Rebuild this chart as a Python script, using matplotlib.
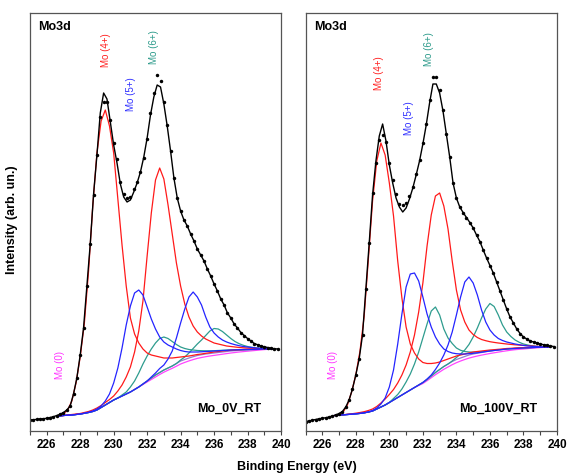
import numpy as np
import matplotlib
matplotlib.use('Agg')
import matplotlib.pyplot as plt

plt.rcParams['font.family'] = ['Liberation Sans', 'DejaVu Sans']

# binding energy grids (eV)
be_fit = np.round(np.arange(226.75, 239.51, 0.25), 2)   # fitted components
be_data = np.round(np.arange(225.0, 239.81, 0.2), 2)    # measured points

# ---------------- Mo_0V_RT ----------------
bg_0v = [15.0, 15.5, 15.8, 16.0, 16.5, 17.0, 17.7, 18.5, 19.5, 21.0, 23.5, 26.0, 28.5,
         31.0, 33.0, 35.0, 37.0, 39.0, 41.5, 44.0, 47.0, 50.0, 53.0, 56.0, 58.5, 61.0,
         63.0, 65.0, 67.5, 70.0, 71.5, 73.0, 74.3, 75.5, 76.3, 77.0, 77.5, 78.0, 78.5,
         79.0, 79.5, 80.0, 80.3, 80.6, 80.8, 81.0, 81.3, 81.5, 81.7, 82.0, 82.0, 82.0]
mo4a_0v = [15.5, 17, 21, 30, 48, 74, 108, 160, 225, 278, 310, 321, 305,
           278, 232, 186, 145, 113, 97, 88, 82, 78, 76, 75, 74, 73,
           73, 73, 73.5, 74, 74.5, 75, 75.7, 76.5, 77, 77.7, 78.3, 79, 79.5,
           80, 80.4, 80.8, 81, 81.3, 81.5, 81.7, 81.8, 81.9, 82, 82, 82, 82]
mo4b_0v = [15, 15.5, 16, 16.5, 17, 17.5, 18.5, 19.5, 21, 23, 25.5, 28.5, 31.5,
           35, 40, 46, 54, 64, 79, 100, 130, 175, 218, 251, 263, 252,
           226, 197, 168, 145, 127, 114, 105, 99, 95, 92, 90, 88, 87,
           86, 85, 84.5, 84, 83.5, 83.2, 83, 82.8, 82.6, 82.4, 82.2, 82.1, 82]
mo5a_0v = [15, 15.5, 15.8, 16, 16.5, 17, 17.8, 18.8, 20, 22, 25, 30, 37,
           48, 63, 83, 106, 125, 138, 141, 136, 124, 112, 102, 94, 89,
           86, 84, 82, 80.5, 79.5, 79, 79, 79, 79.2, 79.5, 79.7, 80, 80.2,
           80.5, 80.7, 81, 81.1, 81.3, 81.4, 81.5, 81.6, 81.7, 81.8, 82, 82, 82]
mo5b_0v = [15.0, 15.5, 15.8, 16.0, 16.5, 17.0, 17.7, 18.5, 19.5, 21.0, 23.5, 26.0, 28.5,
           31, 33, 35, 37, 39, 41.5, 44, 47, 50, 54, 58, 62.5, 66,
           72, 80, 93, 108, 122, 134, 139, 134, 126, 114, 104, 98, 94,
           91, 89, 87.5, 86.3, 85.3, 84.5, 84, 83.5, 83, 82.7, 82.4, 82.2, 82]
mo6a_0v = [15.0, 15.5, 15.8, 16.0, 16.5, 17.0, 17.7, 18.5, 19.5, 21.0, 23.5, 26.0, 28.5,
           31, 33, 36, 39, 44, 50, 58, 67, 75, 82, 88, 92.5, 94,
           92.5, 89.5, 86.5, 84, 82.5, 81.5, 81, 80.5, 80.3, 80.2, 80.2, 80.3, 80.5,
           80.7, 80.9, 81, 81.2, 81.3, 81.4, 81.5, 81.6, 81.7, 81.8, 82, 82, 82]
mo6b_0v = [15.0, 15.5, 15.8, 16.0, 16.5, 17.0, 17.7, 18.5, 19.5, 21.0, 23.5, 26.0, 28.5,
           31.0, 33.0, 35.0, 37.0, 39.0, 41.5, 44.0, 47.0, 50.0, 53.0, 56.0, 58.5, 61.0,
           63, 65, 67.5, 71, 74, 78, 82.5, 87, 91, 95.5, 100, 102.5, 102,
           99.5, 96, 92.5, 89.5, 87.3, 85.7, 84.5, 83.7, 83.2, 82.8, 82.5, 82.2, 82]
mo0_0v = [15.0, 15.5, 15.8, 16.0, 16.5, 17.0, 17.7, 18.5, 19.5, 21.0, 23.5, 26.0, 28.5,
          31.0, 33.0, 35.0, 37.0, 39.0, 41.5, 44.0, 46.5, 49.0, 51.5, 54.0, 56.5, 58.8,
          60.8, 62.7, 64.8, 67.0, 68.6, 70.1, 71.4, 72.6, 73.5, 74.3, 75.0, 75.6, 76.2,
          76.8, 77.4, 78.0, 78.5, 79.0, 79.4, 79.8, 80.2, 80.6, 81.0, 81.4, 81.7, 82.0]
data_0v = [11, 11.3, 11.6, 12, 12.3, 12.7, 13.5, 14.3, 15.5, 16.8,
           18.5, 21, 25, 37, 53, 76, 103, 145, 187, 236,
           276, 314, 329, 329, 311, 288, 272, 249, 237, 233,
           234.5, 242, 249, 259, 273, 292, 318, 338, 356, 350,
           329, 306, 280, 253, 233, 220, 211, 205, 197, 190,
           182, 176, 170, 162, 155, 147, 140, 132, 126, 118,
           113, 107, 103, 98.5, 95.5, 92.5, 90, 87.5, 86.3, 85,
           84.2, 83.5, 82.8, 82.3, 82]
env_0v = [11, 11.3, 11.6, 12, 12.3, 12.7, 13.5, 14.3, 15.5, 16.8,
          18.5, 21, 25, 37, 53, 76, 103, 145, 187, 237,
          276, 318, 338, 332, 309, 286, 268, 247, 234, 229,
          231, 239, 248, 259, 274, 293, 316, 334, 346, 344,
          327, 305, 280, 253, 233, 220, 211, 205, 197, 190,
          182, 176, 170, 162, 155, 147, 140, 132, 126, 118,
          113, 107, 103, 98.5, 95.5, 92.5, 90, 87.5, 86.3, 85,
          84.2, 83.5, 82.8, 82.3, 82]

# ---------------- Mo_100V_RT ----------------
bg_100v = [15.5, 16, 16.2, 16.5, 16.8, 17.2, 17.6, 18.2, 19, 20, 22, 24, 26,
           28.5, 31, 33.5, 36, 38.5, 41, 43.5, 46, 48.5, 51.5, 55, 58.5, 61.5,
           64.5, 67, 69.5, 71.5, 73, 74.5, 76, 77, 77.8, 78.5, 79.3, 80, 80.5,
           81, 81.5, 82, 82.3, 82.5, 82.8, 83, 83.2, 83.4, 83.6, 83.7, 83.9, 84]
mo4a_100v = [15.5, 16.5, 19, 26, 39, 56, 80, 115, 172, 230, 270, 288, 276,
             248, 215, 170, 133, 104, 87, 78, 72, 68.5, 67.5, 67.5, 68, 69,
             70.5, 72, 73.5, 75, 76, 77, 78, 79, 79.5, 80, 80.5, 81, 81.3,
             81.7, 82, 82.5, 82.7, 83, 83.2, 83.4, 83.5, 83.6, 83.7, 83.8, 83.9, 84]
mo4b_100v = [15.5, 16, 16.3, 16.7, 17.2, 17.8, 18.5, 19.3, 20.5, 22, 24.5, 28, 32,
             36.5, 41.5, 48, 56, 66, 79, 96, 119, 148, 185, 216, 235, 238,
             225, 202, 170, 141, 121, 109, 101, 96.5, 93.5, 91.5, 90.3, 89.3, 88.6,
             88, 87.5, 87, 86.6, 86.2, 85.9, 85.6, 85.3, 85, 84.7, 84.5, 84.2, 84]
mo5a_100v = [15.5, 16, 16.2, 16.5, 16.8, 17.2, 17.6, 18.2, 19, 20.5, 23, 27, 33,
             44, 61, 87, 117, 144, 157, 158, 150, 134, 117, 104, 94, 87,
             82, 79.5, 78, 77.3, 77, 77, 77.3, 77.7, 78.2, 78.8, 79.4, 80, 80.5,
             81, 81.5, 82, 82.3, 82.5, 82.8, 83, 83.2, 83.4, 83.6, 83.7, 83.9, 84]
mo5b_100v = [15.5, 16, 16.2, 16.5, 16.8, 17.2, 17.6, 18.2, 19, 20, 22, 24, 26,
             28.5, 31, 33.5, 36, 38.5, 41, 43.5, 46, 48.5, 52, 56, 61.5, 68,
             76, 86, 99, 116, 134, 149, 154, 148, 136, 121, 109, 101, 96,
             92.5, 90.5, 89, 88, 87, 86.3, 85.6, 85.1, 84.7, 84.4, 84.2, 84.1, 84]
mo6a_100v = [15.5, 16, 16.2, 16.5, 16.8, 17.2, 17.6, 18.2, 19, 20, 22, 24, 26,
             28.5, 32.5, 36.5, 42, 49, 57, 67, 79, 93, 107, 120, 124, 116,
             102, 93, 87.5, 83, 80.7, 79.5, 79, 78.8, 79, 79.3, 79.7, 80.2, 80.7,
             81.2, 81.6, 82, 82.3, 82.6, 82.9, 83.1, 83.3, 83.5, 83.6, 83.7, 83.9, 84]
mo6b_100v = [15.5, 16, 16.2, 16.5, 16.8, 17.2, 17.6, 18.2, 19, 20, 22, 24, 26,
             28.5, 31, 33.5, 36, 38.5, 41, 43.5, 46, 48.5, 51.5, 55, 58.5, 61.5,
             64.5, 67, 70, 73.5, 77, 81, 86.5, 94, 103, 113, 122, 127.5, 124.5,
             116, 106, 99, 94.5, 91, 88.7, 87, 86, 85.2, 84.7, 84.3, 84.1, 84]
mo0_100v = [15.5, 16, 16.2, 16.5, 16.8, 17.2, 17.6, 18.2, 19, 20, 22, 24, 26,
            28.5, 31, 33.5, 36, 38.5, 41, 43.5, 45.5, 47.5, 50.3, 53.3, 56.3, 59.0,
            61.7, 64.0, 66.3, 68.3, 70.0, 71.5, 72.9, 74.0, 75.0, 75.9, 76.7, 77.5, 78.2,
            78.9, 79.6, 80.2, 80.8, 81.3, 81.7, 82.0, 82.4, 82.8, 83.1, 83.4, 83.7, 84]
data_100v = [9.5, 10, 10.8, 11.5, 12.2, 12.7, 13.3, 14, 15, 16,
             17.5, 19.5, 24, 31, 42, 56, 72, 96, 142, 188,
             238, 268, 291, 296, 289, 268, 251, 237, 227, 226,
             228, 235, 244, 257, 271, 288, 307, 331, 354, 354,
             341, 321, 297, 274, 248, 233, 224, 218.5, 213.5, 208.5,
             203, 196, 189.5, 181, 173, 165.5, 158, 149, 140, 131,
             122, 114, 108, 102, 97.5, 94, 92, 90, 89, 88,
             87, 86.3, 85.7, 85, 84.5]
env_100v = [9.5, 10, 10.8, 11.5, 12.2, 12.7, 13.3, 14, 15, 16,
            17.5, 19.5, 24, 31, 42, 56, 72, 96, 142, 188,
            236, 270, 295, 307, 290, 266, 248, 233, 224, 219,
            223, 232, 243, 256, 270, 287, 306, 328, 347, 347,
            338, 320, 297, 274, 248, 233, 224, 218.5, 213.5, 208.5,
            203, 196, 189.5, 181, 173, 165.5, 158, 149, 140, 131,
            122, 114, 108, 102, 97.5, 94, 92, 90, 89, 88,
            87, 86.3, 85.7, 85, 84.5]

RED = '#ff1a1a'
BLUE = '#2424ff'
TEAL = '#2e9c8e'
PINK = '#ff44ff'


def panel(ax, bg, mo4a, mo4b, mo5a, mo5b, mo6a, mo6b, mo0, data, env, name, pos):
    ax.plot(be_fit, mo0, color=PINK, lw=0.9)
    ax.plot(be_fit, bg, color='#7a5cc8', lw=0.9, alpha=0.8)
    for comp in (mo6a, mo6b):
        ax.plot(be_fit, comp, color=TEAL, lw=0.9)
    for comp in (mo4a, mo4b):
        ax.plot(be_fit, comp, color=RED, lw=0.9)
    for comp in (mo5a, mo5b):
        ax.plot(be_fit, comp, color=BLUE, lw=0.9)
    ax.plot(be_data, env, color='black', lw=1.0)
    ax.plot(be_data, data, 'o', color='black', ms=2.5, mew=0)

    ax.set_xlim(225, 240)
    ax.set_ylim(0, 418)
    ax.set_yticks([])
    ax.set_xticks(np.arange(226, 241, 2))
    ax.set_xticks(np.arange(225, 240, 2), minor=True)
    ax.tick_params(axis='x', which='both', direction='out', length=3, width=0.8,
                   pad=2.5, labelsize=8.5, color='#444444')
    for lab in ax.get_xticklabels():
        lab.set_fontweight('bold')
    for sp in ax.spines.values():
        sp.set_color('#555555')
        sp.set_linewidth(0.9)

    ax.text(0.033, 0.966, 'Mo3d', transform=ax.transAxes, ha='left', va='center',
            fontsize=9, fontweight='bold')
    ax.text(pos['4'][0], pos['4'][1], 'Mo (4+)', color='#ff2020', rotation=90,
            ha='center', va='center', fontsize=7)
    ax.text(pos['5'][0], pos['5'][1], 'Mo (5+)', color='#3030ff', rotation=90,
            ha='center', va='center', fontsize=7)
    ax.text(pos['6'][0], pos['6'][1], 'Mo (6+)', color='#2b9a8a', rotation=90,
            ha='center', va='center', fontsize=7)
    ax.text(pos['0'][0], pos['0'][1], 'Mo (0)', color='#ff33ff', rotation=90,
            ha='center', va='center', fontsize=7)
    ax.text(pos['n'][0], pos['n'][1], name, ha='center', va='center',
            fontsize=9, fontweight='bold')


fig = plt.figure(figsize=(5.68, 4.73), dpi=100)
ax1 = fig.add_axes([30 / 568, 42 / 473, 251 / 568, 418 / 473])
ax2 = fig.add_axes([305.5 / 568, 42 / 473, 251.5 / 568, 418 / 473])

panel(ax1, bg_0v, mo4a_0v, mo4b_0v, mo5a_0v, mo5b_0v, mo6a_0v, mo6b_0v, mo0_0v,
      data_0v, env_0v, 'Mo_0V_RT',
      {'4': (229.53, 381), '5': (231.03, 337), '6': (232.4, 384),
       '0': (226.78, 66), 'n': (236.89, 22)})
panel(ax2, bg_100v, mo4a_100v, mo4b_100v, mo5a_100v, mo5b_100v, mo6a_100v, mo6b_100v,
      mo0_100v, data_100v, env_100v, 'Mo_100V_RT',
      {'4': (229.41, 358), '5': (231.16, 313), '6': (232.36, 382),
       '0': (226.65, 66), 'n': (236.51, 22)})

fig.text(12 / 568, 1 - 220 / 473, 'Intensity (arb. un.)', rotation=90, ha='center',
         va='center', fontsize=9, fontweight='bold')
fig.text(297 / 568, 1 - 467 / 473, 'Binding Energy (eV)', ha='center', va='center',
         fontsize=9, fontweight='bold')

fig.savefig('out.png', dpi=100)
